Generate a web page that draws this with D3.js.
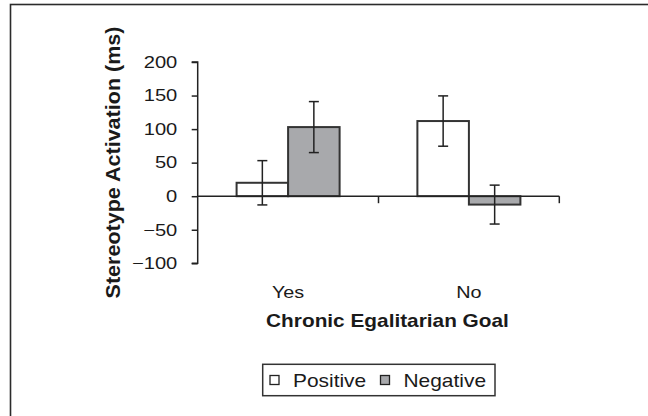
<!DOCTYPE html>
<html>
<head>
<meta charset="utf-8">
<script src="https://cdn.jsdelivr.net/npm/d3@7"></script>
<style>
  body { margin: 0; background: #fff; }
  svg { display: block; font-family: "Liberation Sans", Arial, sans-serif; }
</style>
</head>
<body>
<svg width="648" height="416"></svg>
<script>
var categories = ["Yes", "No"];
var seriesNames = ["Positive", "Negative"];
var positive = [20, 112];
var positiveErr = [33, 37.5];
var negative = [103, -12.5];
var negativeErr = [38, 29];
var yTicks = [-100, -50, 0, 50, 100, 150, 200];

var fills = { Positive: "#ffffff", Negative: "#a8a9ac" };

var svg = d3.select("svg");

// the original type is set a bit wider than Arial, so stretch text by k
function stretch(sel, k) {
    sel.each(function () {
        var t = d3.select(this);
        t.attr("textLength", this.getComputedTextLength() * k)
         .attr("lengthAdjust", "spacingAndGlyphs");
    });
}

// outer frame (runs off the right and bottom)
svg.append("rect")
    .attr("x", 10.5).attr("y", 4.5)
    .attr("width", 700).attr("height", 500)
    .attr("fill", "none")
    .attr("stroke", "#2b2b2b")
    .attr("stroke-width", 1.6);

var x0 = d3.scaleBand().domain(categories).range([197.7, 559.3]);
var x1 = d3.scaleBand().domain(seriesNames).range([0, x0.bandwidth()]).paddingOuter(0.755);
var y = d3.scaleLinear().domain([-100, 200]).range([263.3, 62]);

var rows = categories.map(function (c, i) {
    return [
        { cat: c, key: "Positive", value: positive[i], err: positiveErr[i] },
        { cat: c, key: "Negative", value: negative[i], err: negativeErr[i] }
    ];
});

// y axis
var yAxis = d3.axisLeft(y).tickValues(yTicks).tickSize(6).tickPadding(14.4)
    .tickFormat(function (d) { return d < 0 ? "\u2212" + Math.abs(d) : d; });
var gY = svg.append("g")
    .attr("transform", "translate(197.7,0)")
    .call(yAxis);
gY.select(".domain").attr("stroke", "#222").attr("stroke-width", 1.5).attr("d", "M-6,62H0V263.3H-6");
gY.selectAll(".tick line").attr("stroke", "#222").attr("stroke-width", 1.5);
gY.selectAll(".tick text").attr("fill", "#1a1a1a").style("font-size", "16.5px")
    .attr("font-family", "Liberation Sans, Arial, sans-serif")
    .call(stretch, 1.22);

// bars
var groups = svg.selectAll(".grp").data(rows).enter().append("g")
    .attr("transform", function (d) { return "translate(" + x0(d[0].cat) + ",0)"; });

groups.selectAll("rect").data(function (d) { return d; }).enter().append("rect")
    .attr("x", function (d) { return x1(d.key); })
    .attr("width", x1.bandwidth())
    .attr("y", function (d) { return y(Math.max(0, d.value)); })
    .attr("height", function (d) { return Math.abs(y(d.value) - y(0)); })
    .attr("fill", function (d) { return fills[d.key]; })
    .attr("stroke", "#333")
    .attr("stroke-width", 2);

// x axis along zero
var xAxis = d3.axisBottom(x0).tickSize(0).tickFormat("");
var gX = svg.append("g")
    .attr("transform", "translate(0," + y(0) + ")")
    .call(xAxis);
gX.select(".domain").attr("stroke", "#222").attr("stroke-width", 1.5).attr("d", "M197.7,0H559.3");
gX.selectAll(".tick").remove();
gX.selectAll(".sep").data(categories).enter().append("line")
    .attr("x1", function (d) { return x0(d) + x0.bandwidth(); })
    .attr("x2", function (d) { return x0(d) + x0.bandwidth(); })
    .attr("y1", 0).attr("y2", 7)
    .attr("stroke", "#222").attr("stroke-width", 1.5);

// error bars
var eb = groups.selectAll(".err").data(function (d) { return d; }).enter().append("g")
    .attr("stroke", "#222").attr("stroke-width", 1.5);
eb.append("line")
    .attr("x1", function (d) { return x1(d.key) + x1.bandwidth() / 2; })
    .attr("x2", function (d) { return x1(d.key) + x1.bandwidth() / 2; })
    .attr("y1", function (d) { return y(d.value + d.err); })
    .attr("y2", function (d) { return y(d.value - d.err); });
[1, -1].forEach(function (s) {
    eb.append("line")
        .attr("x1", function (d) { return x1(d.key) + x1.bandwidth() / 2 - 5; })
        .attr("x2", function (d) { return x1(d.key) + x1.bandwidth() / 2 + 5; })
        .attr("y1", function (d) { return y(d.value + s * d.err); })
        .attr("y2", function (d) { return y(d.value + s * d.err); });
});

// category labels
svg.selectAll(".cat").data(categories).enter().append("text")
    .attr("x", function (d) { return x0(d) + x0.bandwidth() / 2; })
    .attr("y", 298.4)
    .attr("text-anchor", "middle")
    .attr("fill", "#1a1a1a")
    .style("font-size", "16.5px")
    .text(function (d) { return d; })
    .call(stretch, 1.2);

// axis titles
svg.append("text")
    .attr("x", 387.5).attr("y", 327.4)
    .attr("text-anchor", "middle")
    .attr("fill", "#1a1a1a")
    .style("font-size", "19px").style("font-weight", "bold")
    .text("Chronic Egalitarian Goal")
    .call(stretch, 1.095);

svg.append("text")
    .attr("transform", "translate(119.5,162.5) rotate(-90)")
    .attr("text-anchor", "middle")
    .attr("fill", "#1a1a1a")
    .style("font-size", "20.5px").style("font-weight", "bold")
    .text("Stereotype Activation (ms)")
    .call(stretch, 1.05);

// legend
var legend = svg.append("g");
legend.append("rect")
    .attr("x", 262.7).attr("y", 364.3)
    .attr("width", 232.3).attr("height", 31.4)
    .attr("fill", "#fff").attr("stroke", "#333").attr("stroke-width", 1.5);

var legX = [270, 380.5];
var items = legend.selectAll(".item").data(seriesNames).enter().append("g")
    .attr("transform", function (d, i) { return "translate(" + legX[i] + ",0)"; });
items.append("rect")
    .attr("x", 0).attr("y", 375.5)
    .attr("width", 9).attr("height", 9)
    .attr("fill", function (d) { return fills[d]; })
    .attr("stroke", "#222").attr("stroke-width", 1.3);
items.append("text")
    .attr("x", 23).attr("y", 387)
    .attr("fill", "#1a1a1a")
    .style("font-size", "18.5px")
    .text(function (d) { return d; })
    .call(stretch, 1.13);
</script>
</body>
</html>
